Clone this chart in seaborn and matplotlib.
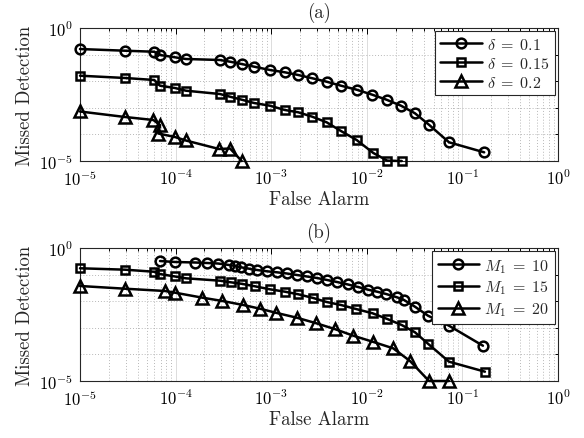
import numpy as np
import pandas as pd
import matplotlib
matplotlib.use("Agg")
import matplotlib.pyplot as plt
import matplotlib.ticker as mticker
import seaborn as sns

# ---------------- data ----------------
# Panel (a): delta series
fa_a1 = [1e-5, 2.96e-5, 5.98e-5, 6.87e-5, 9.86e-5, 1.28e-4, 2.91e-4, 3.71e-4, 4.91e-4,
         6.65e-4, 9.70e-4, 1.39e-3, 1.92e-3, 2.69e-3, 3.80e-3, 5.37e-3, 7.83e-3, 1.14e-2,
         1.61e-2, 2.28e-2, 3.19e-2, 4.51e-2, 7.24e-2, 0.169]
md_a1 = [0.162, 0.140, 0.128, 0.0966, 0.0791, 0.0684, 0.0627, 0.0541, 0.0443, 0.0351,
         0.0264, 0.0216, 0.0171, 0.0129, 0.00958, 0.00678, 0.00479, 0.00311, 0.00201,
         0.00120, 6.21e-4, 2.25e-4, 5.05e-5, 2.12e-5]

fa_a2 = [1e-5, 2.96e-5, 5.98e-5, 6.87e-5, 9.86e-5, 1.28e-4, 2.91e-4, 3.71e-4, 4.91e-4,
         6.65e-4, 9.70e-4, 1.39e-3, 1.92e-3, 2.69e-3, 3.80e-3, 5.37e-3, 7.83e-3, 1.17e-2,
         1.64e-2, 2.32e-2]
md_a2 = [0.0161, 0.0132, 0.0111, 0.00678, 0.00555, 0.00440, 0.00330, 0.00261, 0.00202,
         0.00151, 0.00120, 8.26e-4, 6.78e-4, 4.62e-4, 2.85e-4, 1.34e-4, 6.15e-5, 2.0e-5,
         1.03e-5, 1.0e-5]

fa_a3 = [1e-5, 2.96e-5, 5.85e-5, 6.87e-5, 6.59e-5, 9.86e-5, 1.28e-4, 2.84e-4, 3.71e-4, 4.91e-4]
md_a3 = [7.26e-4, 4.51e-4, 3.48e-4, 2.25e-4, 1.08e-4, 7.98e-5, 5.90e-5, 2.83e-5, 2.95e-5, 1.0e-5]

labels_a = [r'$\delta\;=\;0.1$', r'$\delta\;=\;0.15$', r'$\delta\;=\;0.2$']

# Panel (b): M1 series
fa_b1 = [6.87e-5, 9.86e-5, 1.60e-4, 2.13e-4, 2.78e-4, 3.62e-4, 4.18e-4, 4.83e-4, 5.86e-4,
         7.10e-4, 9.03e-4, 1.15e-3, 1.46e-3, 1.86e-3, 2.37e-3, 3.01e-3, 3.84e-3, 4.88e-3,
         6.35e-3, 8.09e-3, 1.03e-2, 1.28e-2, 1.59e-2, 2.07e-2, 2.45e-2, 3.19e-2, 4.37e-2,
         7.24e-2, 0.164]
md_b1 = [0.324, 0.298, 0.285, 0.273, 0.261, 0.230, 0.211, 0.188, 0.167, 0.149, 0.133,
         0.122, 0.110, 0.0966, 0.0849, 0.0745, 0.0627, 0.0527, 0.0425, 0.0342, 0.0271,
         0.0228, 0.0187, 0.0140, 0.0111, 0.00621, 0.00285, 0.00120, 2.12e-4]

fa_b2 = [1e-5, 2.96e-5, 5.98e-5, 6.87e-5, 9.86e-5, 1.28e-4, 2.91e-4, 3.77e-4, 4.91e-4,
         6.77e-4, 9.70e-4, 1.39e-3, 1.92e-3, 2.75e-3, 3.80e-3, 5.37e-3, 7.71e-3, 1.15e-2,
         1.64e-2, 2.32e-2, 3.19e-2, 4.40e-2, 7.24e-2, 0.172]
md_b2 = [0.173, 0.153, 0.128, 0.105, 0.0849, 0.0726, 0.0590, 0.0514, 0.0451, 0.0363,
         0.0280, 0.0228, 0.0182, 0.0132, 0.00933, 0.00720, 0.00509, 0.00351, 0.00214,
         0.00127, 6.78e-4, 2.46e-4, 5.32e-5, 2.24e-5]

fa_b3 = [1e-5, 2.96e-5, 7.74e-5, 9.86e-5, 1.90e-4, 3.08e-4, 5.10e-4, 7.64e-4, 1.11e-3,
         1.85e-3, 2.91e-3, 4.61e-3, 7.22e-3, 1.15e-2, 1.89e-2, 2.83e-2, 4.48e-2, 7.24e-2]
md_b3 = [0.0373, 0.0295, 0.0242, 0.0209, 0.0136, 0.0102, 0.00720, 0.00522, 0.00370,
         0.00240, 0.00151, 9.01e-4, 5.05e-4, 3.00e-4, 1.69e-4, 5.65e-5, 1.0e-5, 1.0e-5]

labels_b = [r'$M_1\;=\;10$', r'$M_1\;=\;15$', r'$M_1\;=\;20$']

titles = ['(a)', '(b)']
xlabel = 'False Alarm'
ylabel = 'Missed Detection'
xtick_vals = [1e-5, 1e-4, 1e-3, 1e-2, 1e-1, 1e0]
xtick_labels = [r'$\mathsf{10^{-5}}$', r'$\mathsf{10^{-4}}$', r'$\mathsf{10^{-3}}$',
                r'$\mathsf{10^{-2}}$', r'$\mathsf{10^{-1}}$', r'$\mathsf{10^{0}}$']
ytick_vals = [1e-5, 1e0]
ytick_labels = [r'$\mathsf{10^{-5}}$', r'$\mathsf{10^{0}}$']
yminor_vals = [1e-4, 1e-3, 1e-2, 1e-1]

# ---------------- style ----------------
sns.set_style("white")
plt.rcParams['mathtext.fontset'] = 'cm'
plt.rcParams['font.family'] = ['DejaVu Sans']

markers = ['o', 's', '^']
msizes = [7, 6, 9]

fig = plt.figure(figsize=(5.84, 4.39), dpi=100)
ax_a = fig.add_axes([80/584, 1-162/439, 478/584, 133/439])
ax_b = fig.add_axes([80/584, 1-382/439, 478/584, 133/439])

panels = [
    (ax_a, [(fa_a1, md_a1), (fa_a2, md_a2), (fa_a3, md_a3)], labels_a, titles[0]),
    (ax_b, [(fa_b1, md_b1), (fa_b2, md_b2), (fa_b3, md_b3)], labels_b, titles[1]),
]

for ax, series, labels, title in panels:
    for (fx, my), lab, mk, ms in zip(series, labels, markers, msizes):
        df = pd.DataFrame({'fa': fx, 'md': my})
        sns.lineplot(data=df, x='fa', y='md', ax=ax, sort=False, estimator=None,
                     color='black', linewidth=1.8, marker=mk, markersize=ms,
                     markerfacecolor='none', markeredgecolor='black',
                     markeredgewidth=1.8, label=lab, clip_on=False, zorder=3)
    ax.set_xscale('log')
    ax.set_yscale('log')
    ax.set_xlim(1e-5, 1e0)
    ax.set_ylim(1e-5, 1e0)
    ax.xaxis.set_major_locator(mticker.FixedLocator(xtick_vals))
    ax.xaxis.set_major_formatter(mticker.FixedFormatter(xtick_labels))
    ax.xaxis.set_minor_locator(mticker.LogLocator(base=10, subs=np.arange(2, 10), numticks=20))
    ax.xaxis.set_minor_formatter(mticker.NullFormatter())
    ax.yaxis.set_major_locator(mticker.FixedLocator(ytick_vals))
    ax.yaxis.set_major_formatter(mticker.FixedFormatter(ytick_labels))
    ax.yaxis.set_minor_locator(mticker.FixedLocator(yminor_vals))
    ax.yaxis.set_minor_formatter(mticker.NullFormatter())

    ax.grid(True, which='major', axis='x', color='#dcdcdc', linestyle='-', linewidth=0.7)
    ax.grid(True, which='minor', axis='both', color='#b8b8b8', linestyle=(0, (1, 2)), linewidth=0.7)
    ax.set_axisbelow(True)

    ax.tick_params(which='both', direction='in', top=True, right=True, colors='black',
                   labelsize=12, width=0.7)
    ax.tick_params(which='major', length=4.5)
    ax.tick_params(which='minor', length=2.5)
    ax.tick_params(axis='x', which='major', pad=6)
    ax.tick_params(axis='y', which='major', pad=5)
    for sp in ax.spines.values():
        sp.set_color('#262626')
        sp.set_linewidth(0.8)
        sp.set_visible(True)

    ax.set_xlabel(xlabel, fontfamily='cmr10', fontsize=13.5, labelpad=1)
    ax.set_ylabel(ylabel, fontfamily='cmr10', fontsize=13.5, labelpad=4)
    ax.set_title(title, fontfamily='cmr10', fontsize=13.5, pad=8)

    leg = ax.legend(loc='upper right', frameon=True, fancybox=False, framealpha=1,
                    edgecolor='#262626', fontsize=11.5, borderaxespad=0.2,
                    handlelength=2.6, handletextpad=0.3, labelspacing=0.25,
                    borderpad=0.35)
    leg.get_frame().set_linewidth(0.8)

fig.savefig('out.png', dpi=100)
